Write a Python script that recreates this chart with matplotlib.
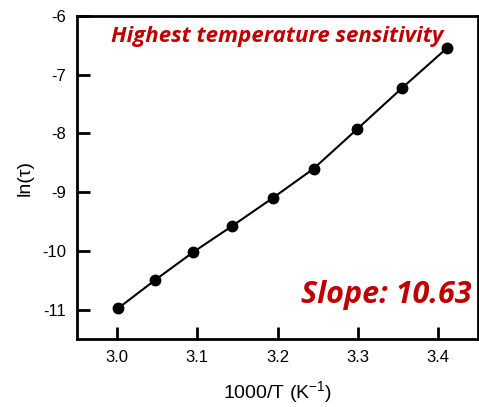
import matplotlib.pyplot as plt

# Arrhenius-type data: ln(tau) vs 1000/T
inv_temp = [3.001, 3.047, 3.095, 3.143, 3.194, 3.245, 3.299, 3.355, 3.411]
ln_tau = [-10.98, -10.50, -10.02, -9.58, -9.10, -8.60, -7.93, -7.23, -6.55]

x_ticks = [3.0, 3.1, 3.2, 3.3, 3.4]
y_ticks = [-11, -10, -9, -8, -7, -6]

title_text = "Highest temperature sensitivity"
slope_text = "Slope: 10.63"

plt.rcParams["font.family"] = ["Liberation Sans", "DejaVu Sans"]
plt.rcParams["mathtext.fontset"] = "custom"
plt.rcParams["mathtext.rm"] = "Liberation Sans"

fig = plt.figure(figsize=(4.79, 4.07), dpi=100)
ax = fig.add_axes([77 / 479, 1 - 339 / 407, 401 / 479, 323 / 407])

ax.plot(inv_temp, ln_tau, color="black", linewidth=1.5, marker="o", markersize=7.5)

ax.set_xlim(2.95, 3.45)
ax.set_ylim(-11.5, -6)
ax.set_xticks(x_ticks)
ax.set_xticklabels([f"{v:.1f}" for v in x_ticks])
ax.set_yticks(y_ticks)
ax.set_yticklabels([str(v) for v in y_ticks])
ax.tick_params(direction="in", length=9, width=2, labelsize=12, pad=8)

for side in ax.spines.values():
    side.set_linewidth(2)

ax.set_xlabel("1000/T (K$\\mathregular{^{-1}}$)", fontsize=14, labelpad=10)
ax.set_ylabel("ln(τ)", fontsize=14, labelpad=6)

ax.text(0.5, 0.935, title_text, transform=ax.transAxes, ha="center", va="center",
        color="#C00000", fontsize=16, fontweight="bold", fontstyle="italic",
        family="Open Sans")
ax.text(0.985, 0.135, slope_text, transform=ax.transAxes, ha="right", va="center",
        color="#C00000", fontsize=22, fontweight="bold", fontstyle="italic",
        family="Open Sans")

fig.savefig("out.png", dpi=100)
